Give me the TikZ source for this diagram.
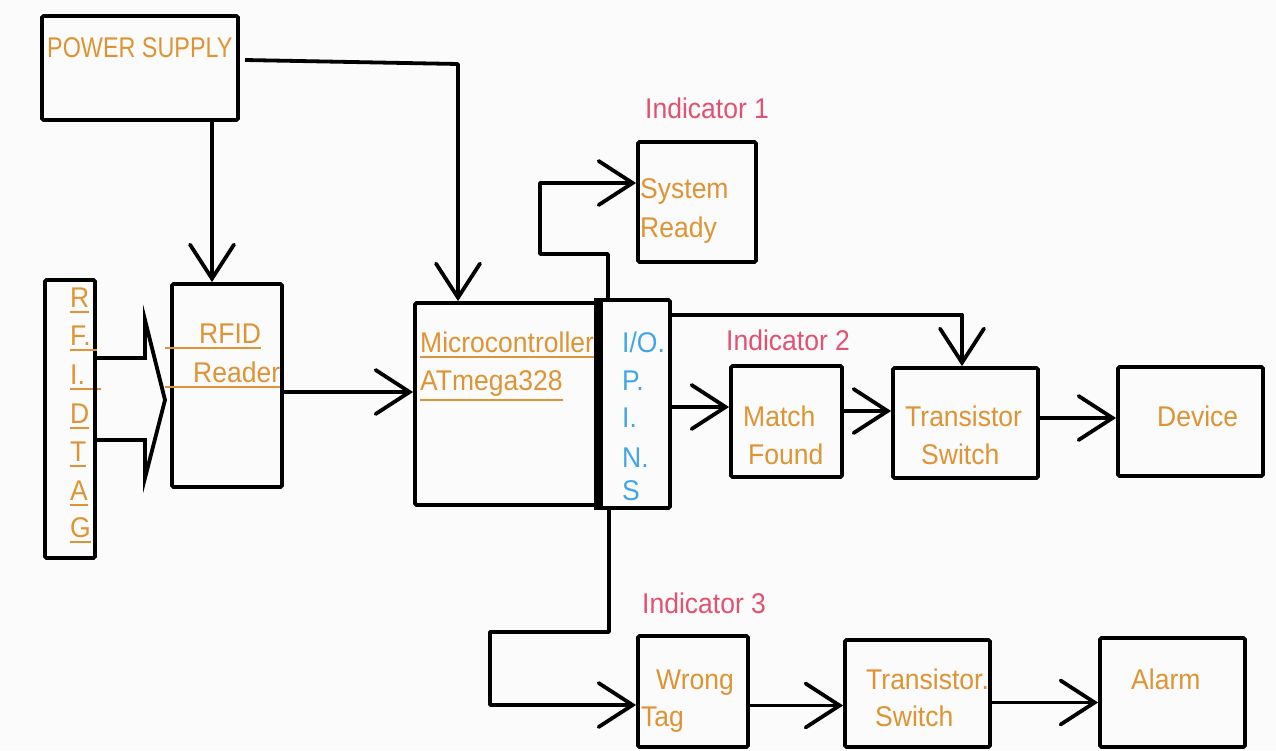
\documentclass[tikz,border=0pt]{standalone}
\usepackage{fontspec}
\setmainfont{Liberation Sans}[FakeStretch=0.93]
\newfontfamily\narrowps{Liberation Sans}[FakeStretch=0.82]
\usetikzlibrary{arrows.meta,fit}
\definecolor{txtor}{RGB}{222,148,52}
\definecolor{txtpk}{RGB}{226,82,112}
\definecolor{txtbl}{RGB}{64,166,232}
\definecolor{bgc}{RGB}{251,251,251}
\newcommand\ulx[1]{\leavevmode\vtop{\hbox{#1}\kern3.5pt\hrule height 2pt}}
\begin{document}
\begin{tikzpicture}[x=1pt,y=-1pt,
  box/.style={draw=black,line width=3.8pt,rounded corners=1.5pt,inner sep=0pt},
  arr/.style={draw=black,line width=3.8pt,line join=round,-{Straight Barb[length=34pt,width=44pt,line cap=round]}},
  fatarrow/.style={draw=black,line width=3.8pt,line join=miter},
  txt/.style={anchor=base west,inner sep=0pt,text=txtor,font=\fontsize{28.5}{34}\selectfont},
  pink/.style={txt,text=txtpk},
  blue/.style={txt,text=txtbl}]
\useasboundingbox[fill=bgc] (0,0) rectangle (1276,750);

% boxes
\node[box,fit={(42,16) (238,120)}] (ps) {};
\node[box,fit={(45,280) (95,558)}] (tag) {};
\node[box,fit={(172,284) (282,487)}] (rdr) {};
\node[box,fit={(415,303) (598,505)}] (mc) {};
\node[box,fit={(638,142) (756,262)}] (sr) {};
\node[box,fit={(731,366) (842,477)}] (mf) {};
\node[box,fit={(893,368) (1038,478)}] (ts1) {};
\node[box,fit={(1118,367) (1263,476)}] (dev) {};
\node[box,fit={(638,636) (748,747)}] (wt) {};
\node[box,fit={(845,640) (990,747)}] (ts2) {};
\node[box,fit={(1100,638) (1245,747)}] (alm) {};

% texts
\node[txt,font=\narrowps\fontsize{28.5}{34}\selectfont] (tps) at (47,57) {POWER SUPPLY};
\node[txt] (tR) at (70,307) {\ulx{R}};
\node[txt] (tF) at (70,345) {\ulx{F.\hspace{6pt}}};
\node[txt] (tI) at (70,384) {\ulx{I.\hspace{16pt}}};
\node[txt] (tD) at (70,423) {\ulx{D}};
\node[txt] (tT) at (70,461) {\ulx{T}};
\node[txt] (tA) at (70,500) {\ulx{A}};
\node[txt] (tG) at (70,537) {\ulx{G}};
\node[txt] (trf) at (165,343) {\ulx{\hspace{34pt}RFID}};
\node[txt] (trd) at (165,382) {\ulx{\hspace{28pt}Reader}};
\node[txt] (tmc) at (420,352) {\ulx{Microcontroller}};
\node[txt] (tat) at (420,390) {\ulx{ATmega328}};

\node[box,fill=bgc,fit={(598,300) (670,508)}] (io) {};
\draw[line width=9pt] (598,298) -- (598,510);
\node[blue] (io1) at (622,352) {I/O.};
\node[blue] (io2) at (622,390) {P.};
\node[blue] (io3) at (622,427) {I.};
\node[blue] (io4) at (622,467) {N.};
\node[blue] (io5) at (622,500) {S};

\node[pink] (ind1) at (645,118) {Indicator 1};
\node[pink] (ind2) at (726,350) {Indicator 2};
\node[pink] (ind3) at (642,613) {Indicator 3};
\node[txt] (tsys) at (640,198) {System};
\node[txt] (trdy) at (640,237) {Ready};
\node[txt] (tmat) at (743,426) {Match};
\node[txt] (tfnd) at (748,464) {Found};
\node[txt] (ttr1) at (905,426) {Transistor};
\node[txt] (tsw1) at (921,464) {Switch};
\node[txt] (tdev) at (1157,426) {Device};
\node[txt] (twr) at (656,689) {Wrong};
\node[txt] (ttag) at (641,726) {Tag};
\node[txt] (ttr2) at (866,689) {Transistor.};
\node[txt] (tsw2) at (875,726) {Switch};
\node[txt] (talm) at (1131,689) {Alarm};

% connectors
\coordinate (psA) at (245,60);
\coordinate (psB) at (458,64);
\draw[arr] (psA) -- (psB) -- (psB |- mc.north);
\coordinate (rdrIn) at (212,284);
\draw[arr] (rdrIn |- ps.south) -- (rdrIn |- rdr.north);
\draw[fatarrow] (95,358) -- (145,358) -- (145,320) -- (165,400) -- (145,478) -- (145,440) -- (95,440) -- cycle;
\draw[arr] ([yshift=-6.5pt]rdr.east) -- ([yshift=-6.5pt]rdr.east -| mc.west);
\coordinate (j1) at (608,254);
\coordinate (j2) at (540,254);
\coordinate (j3) at (540,183);
\draw[arr] (j1 |- io.north) -- (j1) -- (j2) -- (j3) -- (j3 -| sr.west);
\coordinate (k1) at (962,315);
\draw[arr] (k1 -| io.east) -- (k1) -- (k1 |- ts1.north);
\draw[arr] ([yshift=-3pt]io.east) -- ([yshift=-3pt]io.east -| mf.west);
\draw[arr] ([yshift=10.5pt]mf.east) -- ([yshift=10.5pt]mf.east -| ts1.west);
\draw[arr] ([yshift=5pt]ts1.east) -- ([yshift=5pt]ts1.east -| dev.west);
\coordinate (m1) at (609,632);
\coordinate (m2) at (490,632);
\coordinate (m3) at (490,705);
\draw[arr] (m1 |- io.south) -- (m1) -- (m2) -- (m3) -- (m3 -| wt.west);
\draw[arr] ([yshift=-14pt]wt.east) -- ([yshift=-14pt]wt.east -| ts2.west);
\draw[arr] ([yshift=-9pt]ts2.east) -- ([yshift=-9pt]ts2.east -| alm.west);
\end{tikzpicture}
\end{document}
